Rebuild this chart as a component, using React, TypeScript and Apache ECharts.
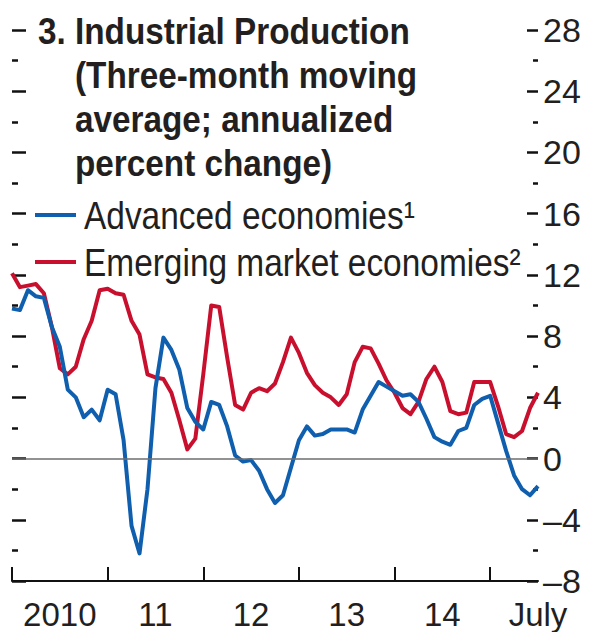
import React, { useEffect, useRef } from "react";
import * as echarts from "echarts";

// Monthly data, Jan 2010 (index 0) to July 2015 (index 66)
const advancedEconomies = [
  9.8, 9.7, 11.0, 10.6, 10.5, 8.6, 7.3, 4.5, 4.0, 2.7, 3.2, 2.5,
  4.5, 4.2, 1.2, -4.4, -6.2, -2.0, 4.6, 7.9, 7.1, 5.8, 3.3, 2.4,
  1.9, 3.7, 3.5, 2.1, 0.2, -0.2, -0.1, -0.8, -2.0, -2.9, -2.4, -0.6,
  1.2, 2.1, 1.5, 1.6, 1.9, 1.9, 1.9, 1.7, 3.2, 4.1, 5.0, 4.7,
  4.4, 4.1, 4.2, 3.7, 2.6, 1.4, 1.1, 0.9, 1.8, 2.0, 3.5, 3.9,
  4.1, 2.3, 0.5, -1.1, -2.0, -2.4, -1.8,
];
const emergingEconomies = [
  12.1, 11.2, 11.3, 11.4, 10.8, 8.6, 5.9, 5.5, 6.0, 7.8, 9.0, 11.0,
  11.1, 10.8, 10.7, 9.0, 8.1, 5.5, 5.3, 5.2, 4.3, 2.5, 0.6, 1.3,
  5.5, 10.0, 9.9, 6.6, 3.5, 3.2, 4.3, 4.6, 4.4, 4.9, 6.3, 7.9,
  6.9, 5.6, 4.8, 4.3, 4.0, 3.5, 4.2, 6.3, 7.3, 7.2, 6.2, 5.1,
  4.3, 3.3, 2.9, 3.7, 5.2, 6.0, 5.0, 3.1, 2.9, 3.0, 5.0, 5.0,
  5.0, 3.4, 1.6, 1.4, 1.8, 3.3, 4.3,
];
const xTickMonths = [0, 12, 24, 36, 48, 60];
const xLabelMonths = [6, 18, 30, 42, 54, 66];
const xLabels = ["2010", "11", "12", "13", "14", "July"];
const titleLines = [
  "3. Industrial Production",
  "(Three-month moving",
  "average; annualized",
  "percent change)",
];
const seriesNames = ["Advanced economies¹", "Emerging market economies²"];

const FONT = '"Liberation Sans", Arial, sans-serif';
const TEXT = "#231f20";
const BLUE = "#0f5fae";
const RED = "#c8102e";
const colors = [BLUE, RED];

export default function App() {
  const ref = useRef<HTMLDivElement>(null);
  useEffect(() => {
    if (!ref.current) return;
    const chart = echarts.init(ref.current, undefined, { renderer: "svg" });
    const yCommon = {
      type: "value",
      min: -8,
      max: 28,
      interval: 4,
      splitNumber: 2,
      axisLine: { show: false, onZero: false },
      splitLine: { show: false },
    };
    const titleGraphics = titleLines.map((t, i) => ({
      type: "text",
      x: i === 0 ? 38 : 75,
      y: 31 + i * 44,
      scaleX: 0.9,
      style: {
        text: t,
        font: `bold 37px ${FONT}`,
        fill: TEXT,
        verticalAlign: "middle",
      },
    }));
    const legendGraphics: any[] = [];
    seriesNames.forEach((name, i) => {
      const cy = 215 + i * 47;
      legendGraphics.push({
        type: "line",
        shape: { x1: 35, y1: cy, x2: 76, y2: cy },
        style: { stroke: colors[i], lineWidth: 4 },
      });
      legendGraphics.push({
        type: "text",
        x: 84,
        y: cy + 1,
        scaleX: 0.88,
        style: {
          text: name,
          font: `38px ${FONT}`,
          fill: TEXT,
          verticalAlign: "middle",
        },
      });
    });
    chart.setOption({
      animation: false,
      backgroundColor: "#ffffff",
      textStyle: { fontFamily: FONT },
      grid: { left: 12, right: 54, top: 30, bottom: 51 },
      graphic: [...titleGraphics, ...legendGraphics],
      xAxis: {
        type: "value",
        min: 0,
        max: 66,
        interval: 12,
        axisLine: { show: true, onZero: false, lineStyle: { color: "#111", width: 2 } },
        axisTick: {
          show: true,
          inside: true,
          length: 14,
          customValues: xTickMonths,
          lineStyle: { color: "#111", width: 2 },
        },
        axisLabel: {
          show: true,
          customValues: xLabelMonths,
          formatter: (v: number) => xLabels[xLabelMonths.indexOf(v)] ?? "",
          fontSize: 33,
          color: TEXT,
          fontFamily: FONT,
          margin: 17,
        },
        splitLine: { show: false },
      },
      yAxis: [
        {
          ...yCommon,
          position: "right",
          axisTick: { show: true, inside: true, length: 11, lineStyle: { color: "#111", width: 2.5 } },
          minorTick: { show: true, splitNumber: 2, length: 5, lineStyle: { color: "#111", width: 2.5 } },
          axisLabel: {
            show: true,
            margin: 5,
            fontSize: 34,
            color: TEXT,
            fontFamily: FONT,
            formatter: (v: number) => (v < 0 ? "–" + Math.abs(v) : String(v)),
          },
        },
        {
          ...yCommon,
          position: "left",
          axisTick: { show: true, inside: true, length: 14, lineStyle: { color: "#111", width: 2.5 } },
          minorTick: { show: true, splitNumber: 2, length: 6, lineStyle: { color: "#111", width: 2.5 } },
          axisLabel: { show: false },
        },
      ],
      series: [
        {
          name: seriesNames[0],
          type: "line",
          data: advancedEconomies.map((v, i) => [i, v]),
          showSymbol: false,
          lineStyle: { color: BLUE, width: 4, join: "round" },
          itemStyle: { color: BLUE },
          z: 3,
        },
        {
          name: seriesNames[1],
          type: "line",
          data: emergingEconomies.map((v, i) => [i, v]),
          showSymbol: false,
          lineStyle: { color: RED, width: 4, join: "round" },
          itemStyle: { color: RED },
          z: 2,
          markLine: {
            silent: true,
            symbol: "none",
            label: { show: false },
            lineStyle: { color: "#6d6e71", width: 1.5, type: "solid" },
            data: [{ yAxis: 0 }],
          },
        },
      ],
    });
    return () => chart.dispose();
  }, []);
  return (
    <div
      ref={ref}
      style={{ position: "fixed", left: 0, top: 0, width: 592, height: 632, background: "#fff" }}
    />
  );
}
